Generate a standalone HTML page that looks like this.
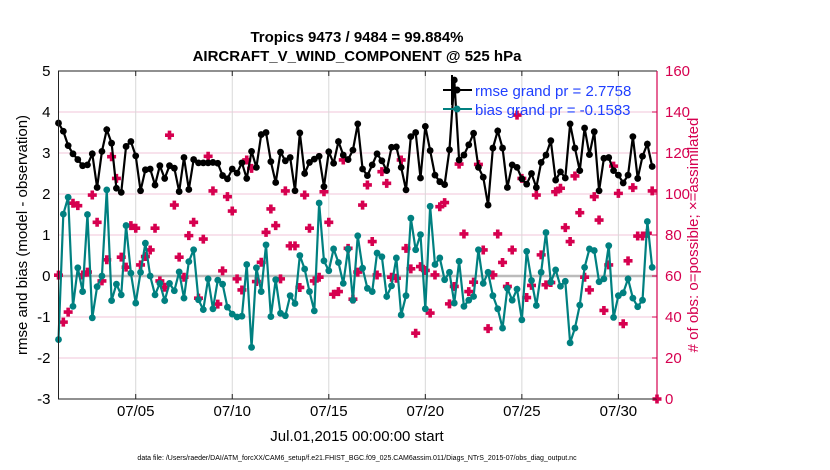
<!DOCTYPE html>
<html><head><meta charset="utf-8"><style>
body{margin:0;background:#fff;}
svg{display:block;font-family:"Liberation Sans",sans-serif;}
</style></head><body>
<svg id="chart" width="830" height="470" viewBox="0 0 830 470">
<rect width="830" height="470" fill="#fff"/>
<text x="357" y="42" text-anchor="middle" font-size="15" font-weight="bold">Tropics 9473 / 9484 = 99.884%</text>
<text x="357" y="61" text-anchor="middle" font-size="15" font-weight="bold">AIRCRAFT_V_WIND_COMPONENT @ 525 hPa</text>
<g id="grid"></g>
<g id="marks"></g>
<g id="axes"></g>
<text transform="translate(27,235) rotate(-90)" text-anchor="middle" font-size="15">rmse and bias (model - observation)</text>
<text transform="translate(698,235) rotate(-90)" text-anchor="middle" font-size="15" fill="#d6004f"># of obs: o=possible; ×=assimilated</text>
<text x="357" y="441" text-anchor="middle" font-size="15">Jul.01,2015 00:00:00 start</text>
<text x="357" y="460" text-anchor="middle" font-size="7">data file: /Users/raeder/DAI/ATM_forcXX/CAM6_setup/f.e21.FHIST_BGC.f09_025.CAM6assim.011/Diags_NTrS_2015-07/obs_diag_output.nc</text>
<g>
<line x1="443" y1="90" x2="472" y2="90" stroke="#000" stroke-width="2"/>
<line x1="452" y1="75" x2="452" y2="105" stroke="#000" stroke-width="2"/>
<circle cx="457" cy="90" r="3.5" fill="#000"/>
<text x="475" y="96" font-size="15" fill="#1f3fff">rmse grand pr = 2.7758</text>
<line x1="443" y1="109" x2="472" y2="109" stroke="#008080" stroke-width="2"/>
<circle cx="457" cy="109" r="3.5" fill="#008080"/>
<text x="475" y="115" font-size="15" fill="#1f3fff">bias grand pr = -0.1583</text>
</g>
</svg>
<script>
const rmse=[3.73,3.53,3.18,2.98,2.84,2.69,2.71,2.98,2.16,3.04,3.57,3.24,2.14,2.04,3.16,3.28,2.93,2.08,2.59,2.61,2.22,2.69,2.38,2.69,2.63,2.06,2.89,2.11,2.84,2.76,2.76,2.76,2.77,2.75,2.45,2.37,2.61,2.51,2.76,2.38,3.04,2.65,3.45,3.5,2.79,2.28,3.02,2.81,2.89,2.08,3.49,2.5,2.77,2.85,2.92,2.18,3.03,2.75,3.28,2.95,2.84,3.07,3.71,2.61,2.45,2.71,2.98,2.81,2.57,3.14,3.15,2.65,2.1,3.4,3.5,2.39,3.65,3.06,2.46,2.3,2.23,3.08,4.78,2.83,2.95,3.2,3.48,2.65,2.41,1.73,3.12,3.54,3.12,2.16,2.71,2.65,2.37,2.24,2.5,2.16,2.77,2.95,3.3,2.34,2.54,2.39,3.71,3.12,2.57,3.61,2.96,3.52,2.08,2.87,2.89,2.57,2.46,2.27,2.46,3.4,2.38,2.92,3.22,2.67];
const bias=[-1.55,1.51,1.92,-0.74,0.2,-0.38,1.5,-1.02,-0.26,0,2.1,-0.6,-0.2,-0.46,1.23,0.07,-0.66,0.09,0.8,0,-0.46,-0.18,-0.6,-0.18,-0.36,0.1,-0.54,0.35,0.64,-0.58,-0.82,-0.07,-0.8,-0.1,-0.2,-0.76,-0.93,-1.0,-0.98,0.28,-1.74,0.2,-0.38,0.76,-0.99,-0.09,-0.91,-0.97,-0.48,-0.67,0.5,0.17,-0.38,-0.85,1.78,0.37,0.13,0.66,0.33,-0.18,0.66,-0.59,0.98,0.19,-0.3,-0.38,0.56,0.47,-0.5,-0.24,0.44,-0.95,-0.48,1.41,0.64,1.01,-0.8,1.7,0.28,0.44,-0.09,0.09,-0.66,0.36,-0.74,-0.59,-0.5,0.64,-0.18,0.09,-0.48,-0.8,-1.27,-0.3,-0.59,-0.32,-1.07,0.6,-0.11,-0.72,0.09,1.06,-0.15,0.15,-0.25,-0.13,-1.63,-1.27,-0.71,0.21,0.66,0.62,-0.14,-0.07,0.74,-1.01,-0.48,-0.41,-0.07,-0.54,-0.75,-0.59,1.33,0.21];
const obs=[60.4,37.5,42.4,95.5,94.3,60.5,61.9,99.5,86.2,57.6,67.9,118.2,107.6,69.2,64.3,84.6,83.3,65.4,69.5,72.7,83.3,57.6,54.5,128.7,94.6,69.2,59.4,79.7,86.2,49.2,78,118.4,101.5,46.3,62.5,98.7,91.7,58.6,53.2,116.6,112.5,57.3,66.7,81.3,92.7,84.6,58.6,101.5,74.7,74.7,54.4,99.5,83.3,57.6,59.4,101.1,86.2,51.1,52.4,116.6,73.5,48.7,61.9,94.6,104.4,76.8,60.5,110.9,105.2,59.4,58.9,116.6,73.5,63.5,32.1,64.6,62.7,41.9,60.5,93.8,95.8,46.4,54.9,114.6,80.5,52.4,57,114.4,72.7,34.3,60.5,80.5,66.6,54.9,72.7,138.5,107.6,49.5,55.4,99.5,70.3,55.7,56.8,101.1,102.8,83.6,76.8,108.8,90.9,59.4,53.2,98.7,87.3,43.2,65.4,113.6,100.3,36.7,67.4,103.1,79.5,79.5,80.8,101.5,0];
const leftTicks=[-3,-2,-1,0,1,2,3,4,5];
const rightTicks=[0,20,40,60,80,100,120,140,160];
const dateTicks=[4,9,14,19,24,29];
const dateLabels=["07/05","07/10","07/15","07/20","07/25","07/30"];
const X0=58.5,X1=657,T0=71,B0=399;
const xd=d=>X0+(X1-X0)*d/31;
const xi=i=>xd(i*0.25);
const yl=v=>B0-(v+3)*(B0-T0)/8;
const yr=v=>B0-v*(B0-T0)/160;
const NS="http://www.w3.org/2000/svg";
function mk(p,t,a){const e=document.createElementNS(NS,t);for(const k in a)e.setAttribute(k,a[k]);p.appendChild(e);return e;}
const grid=document.getElementById('grid'),marks=document.getElementById('marks'),axes=document.getElementById('axes');
leftTicks.forEach(v=>{const l=mk(grid,'line',{x1:X0,x2:X1,y1:yl(v),y2:yl(v),stroke:'#f2c6d8','stroke-width':1});


const t=mk(axes,'text',{x:X0-8,y:yl(v)+5,'text-anchor':'end','font-size':15});t.textContent=v;

});
dateTicks.forEach((d,k)=>{const l=mk(grid,'line',{x1:xd(d),x2:xd(d),y1:T0,y2:B0,stroke:'#d8d8d8','stroke-width':1});


mk(axes,'line',{x1:xd(d),x2:xd(d),y1:B0,y2:B0-5,stroke:'#222'});
mk(axes,'line',{x1:xd(d),x2:xd(d),y1:T0,y2:T0+5,stroke:'#222'});
const t=mk(axes,'text',{x:xd(d),y:416,'text-anchor':'middle','font-size':15});t.textContent=dateLabels[k];

});
rightTicks.forEach(v=>{mk(axes,'line',{x1:X1,x2:X1-5,y1:yr(v),y2:yr(v),stroke:'#d6004f'});
const t=mk(axes,'text',{x:X1+8,y:yr(v)+5,'font-size':15,fill:'#d6004f'});t.textContent=v;

});
mk(grid,'line',{x1:X0,x2:X1,y1:yl(0),y2:yl(0),stroke:'#bbb','stroke-width':2.5});
mk(axes,'path',{d:`M${X1},${T0}H${X0}V${B0}H${X1}`,fill:'none',stroke:'#222','stroke-width':1});
mk(axes,'line',{x1:X1,x2:X1,y1:T0,y2:B0,stroke:'#d6004f','stroke-width':1.2});
const og=mk(marks,'g',{fill:'#d6004f'});


obs.forEach((v,i)=>{const x=xi(i),y=yr(v);const p=mk(og,'path',{d:`M${x-1.8},${y-4.5}h3.6v2.7h2.7v3.6h-2.7v2.7h-3.6v-2.7h-2.7v-3.6h2.7z`});

});
function series(arr,col,name){const g=mk(marks,'g',{});


mk(g,'polyline',{points:arr.map((v,i)=>xi(i)+','+yl(v)).join(' '),fill:'none',stroke:col,'stroke-width':2.2});
arr.forEach((v,i)=>{const c=mk(g,'circle',{cx:xi(i),cy:yl(v),r:3.4,fill:col});

});}
series(bias,'#008080','bias-series');
series(rmse,'#000','rmse-series');
</script>
</body></html>
